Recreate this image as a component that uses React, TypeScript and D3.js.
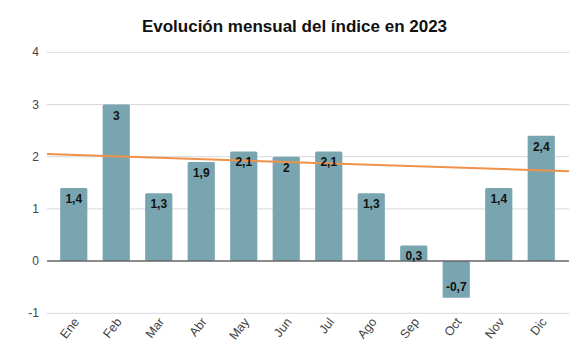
import React, { useEffect, useRef } from 'react';
import * as d3 from 'd3';

const months = ['Ene', 'Feb', 'Mar', 'Abr', 'May', 'Jun', 'Jul', 'Ago', 'Sep', 'Oct', 'Nov', 'Dic'];
const values = [1.4, 3, 1.3, 1.9, 2.1, 2, 2.1, 1.3, 0.3, -0.7, 1.4, 2.4];
const yTicks = [-1, 0, 1, 2, 3, 4];
// trend line value at the left and right edge of the plot
const trend = [2.05, 1.72];

const fmt = (v: number) => String(v).replace('.', ',');

function App() {
  const ref = useRef<SVGSVGElement>(null);

  useEffect(() => {
    if (!ref.current) return;
    const svg = d3.select(ref.current);
    svg.selectAll('*').remove();

    const W = 588, H = 361;
    const left = 47, right = 569;

    const x = d3.scaleBand<string>().domain(months).range([52.5, 562.5]).paddingInner(0.36).paddingOuter(0.18);
    const y = d3.scaleLinear().domain([-1, 4]).range([313.3, 52.3]);

    svg.attr('width', W).attr('height', H);
    svg.append('rect').attr('width', W).attr('height', H).attr('fill', '#fff');

    // title
    svg.append('text')
      .attr('x', 294.5).attr('y', 32)
      .attr('text-anchor', 'middle')
      .attr('font-family', 'Liberation Sans, Arial, sans-serif')
      .attr('font-weight', 'bold')
      .attr('font-size', 17)
      .attr('fill', '#111')
      .text('Evolución mensual del índice en 2023');

    // gridlines
    svg.append('g').selectAll('line')
      .data(yTicks.filter(t => t !== 0))
      .enter().append('line')
      .attr('x1', left).attr('x2', right)
      .attr('y1', d => y(d)).attr('y2', d => y(d))
      .attr('stroke', '#d9d9d9').attr('stroke-width', 1);

    // y labels
    svg.append('g').selectAll('text')
      .data(yTicks)
      .enter().append('text')
      .attr('x', 39).attr('y', d => y(d) + 4)
      .attr('text-anchor', 'end')
      .attr('font-family', 'Liberation Sans, Arial, sans-serif')
      .attr('font-size', 12)
      .attr('fill', '#444')
      .text(d => d);

    // bars
    svg.append('g').selectAll('rect')
      .data(values)
      .enter().append('rect')
      .attr('x', (d, i) => x(months[i])!)
      .attr('width', x.bandwidth())
      .attr('y', d => y(Math.max(d, 0)))
      .attr('height', d => Math.abs(y(d) - y(0)))
      .attr('rx', 1.5)
      .attr('fill', '#78a5b0');

    // zero line
    svg.append('line')
      .attr('x1', left).attr('x2', right)
      .attr('y1', y(0)).attr('y2', y(0))
      .attr('stroke', '#666').attr('stroke-width', 1.5);

    // trend line
    svg.append('line')
      .attr('x1', left).attr('x2', right)
      .attr('y1', y(trend[0])).attr('y2', y(trend[1]))
      .attr('stroke', '#f0914a').attr('stroke-width', 2);

    // value labels
    svg.append('g').selectAll('text')
      .data(values)
      .enter().append('text')
      .attr('x', (d, i) => x(months[i])! + x.bandwidth() / 2)
      .attr('y', d => d >= 0 ? y(d) + 15 : y(d) - 7)
      .attr('text-anchor', 'middle')
      .attr('font-family', 'Liberation Sans, Arial, sans-serif')
      .attr('font-weight', 'bold')
      .attr('font-size', 12)
      .attr('fill', '#111')
      .text(d => fmt(d));

    // x labels
    svg.append('g').selectAll('text')
      .data(months)
      .enter().append('text')
      .attr('transform', d => `translate(${x(d)! + x.bandwidth() / 2 + 6},${322}) rotate(-52)`)
      .attr('text-anchor', 'end')
      .attr('font-family', 'Liberation Sans, Arial, sans-serif')
      .attr('font-size', 12.5)
      .attr('fill', '#444')
      .text(d => d);
  }, []);

  return (
    <div style={{ margin: -8 }}>
      <svg ref={ref} style={{ display: 'block' }} />
    </div>
  );
}

export default App;
